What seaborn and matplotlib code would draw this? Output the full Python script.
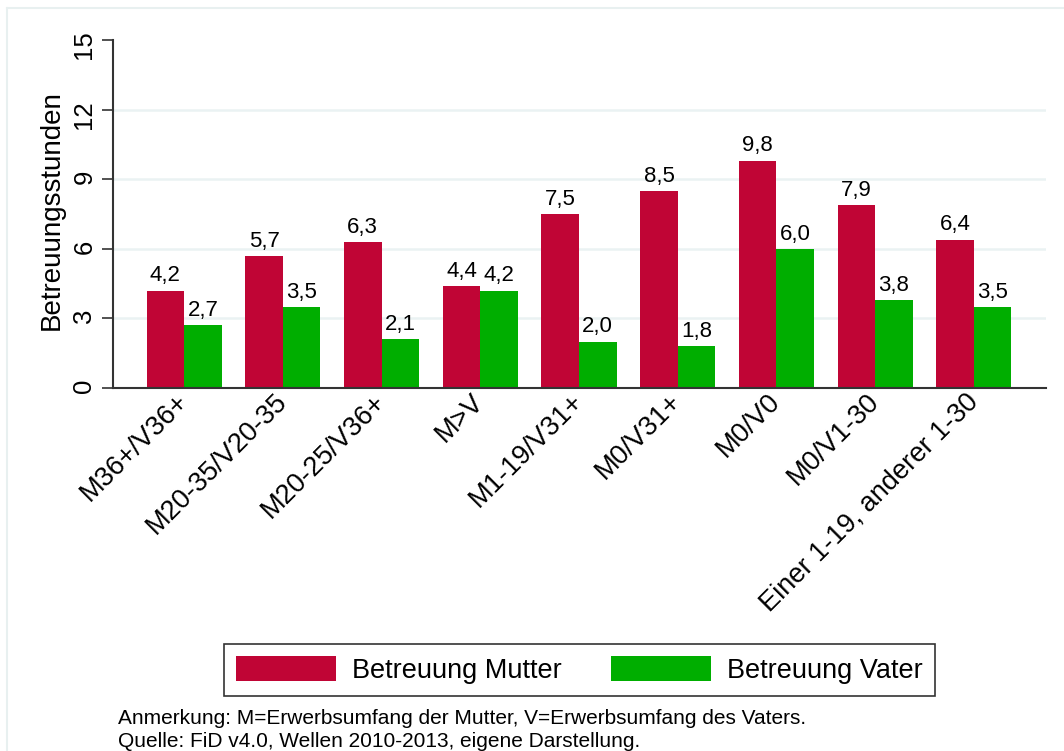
import matplotlib
matplotlib.use("Agg")
import matplotlib.pyplot as plt
from matplotlib.lines import Line2D
import pandas as pd
import seaborn as sns

# Werte aus der Abbildung
categories = ["M36+/V36+", "M20-35/V20-35", "M20-25/V36+", "M>V", "M1-19/V31+",
              "M0/V31+", "M0/V0", "M0/V1-30", "Einer 1-19, anderer 1-30"]
mutter = [4.2, 5.7, 6.3, 4.4, 7.5, 8.5, 9.8, 7.9, 6.4]
vater = [2.7, 3.5, 2.1, 4.2, 2.0, 1.8, 6.0, 3.8, 3.5]
series = ["Betreuung Mutter", "Betreuung Vater"]
colors = ["#C00535", "#00AE00"]
yticks = [0, 3, 6, 9, 12, 15]

note = ("Anmerkung: M=Erwerbsumfang der Mutter, V=Erwerbsumfang des Vaters.\n"
        "Quelle: FiD v4.0, Wellen 2010-2013, eigene Darstellung.")

df = pd.DataFrame({
    "Gruppe": categories * 2,
    "Serie": [series[0]] * len(categories) + [series[1]] * len(categories),
    "Stunden": mutter + vater,
})

sns.set_theme(style="white")
plt.rcParams["font.family"] = ["Liberation Sans", "DejaVu Sans"]
plt.rcParams["text.color"] = "black"
plt.rcParams["axes.labelcolor"] = "black"
plt.rcParams["xtick.color"] = "black"
plt.rcParams["ytick.color"] = "black"

fig = plt.figure(figsize=(10.64, 7.51), dpi=100)
ax = fig.add_axes([113 / 1064, 1 - 388 / 751, (1046 - 113) / 1064, 348 / 751])

sns.barplot(data=df, x="Gruppe", y="Stunden", hue="Serie", order=categories,
            hue_order=series, palette=colors, width=0.76, gap=0,
            saturation=1, linewidth=0, ax=ax)

for cont in ax.containers:
    labels = [f"{b.get_height():.1f}".replace(".", ",") for b in cont]
    ax.bar_label(cont, labels=labels, padding=3, fontsize=16, color="black")

ax.set_ylim(0, 15)
ax.set_xlim(-0.72, len(categories) - 1 + 0.73)
ax.set_yticks(yticks)
ax.set_yticklabels([str(t) for t in yticks])
ax.tick_params(axis="y", labelrotation=90, labelsize=18.5, length=8, width=1.2,
               color="#333333", pad=4, left=True)
ax.tick_params(axis="x", length=0, pad=7, labelsize=19.5)
plt.setp(ax.get_xticklabels(), rotation=45, ha="right", va="center",
         rotation_mode="anchor")

ax.set_xlabel("")
ax.set_ylabel("Betreuungsstunden", fontsize=20)
ax.yaxis.set_label_coords(-0.052, 0.51)

ax.grid(axis="y", color="#eaf2f3", linewidth=1.8)
ax.set_axisbelow(True)
gl = ax.yaxis.get_gridlines()
gl[0].set_visible(False)
gl[-1].set_visible(False)

for side in ["top", "right"]:
    ax.spines[side].set_visible(False)
for side in ["left", "bottom"]:
    ax.spines[side].set_color("#333333")
    ax.spines[side].set_linewidth(1.5)

ax.get_legend().remove()
handles, _ = ax.get_legend_handles_labels()
leg = fig.legend(handles, series, loc="center", bbox_to_anchor=(579.5 / 1064, 1 - 670 / 751),
                 ncol=2, fontsize=19.5, frameon=True, fancybox=False, edgecolor="black",
                 handlelength=3.7, handleheight=1.0, handletextpad=0.6,
                 columnspacing=1.8, borderpad=0.45)
leg.get_frame().set_linewidth(1.2)

fig.text(118 / 1064, 1 - 709 / 751, note, ha="left", va="top", fontsize=15,
         linespacing=1.25)

# heller Rahmen oben und links
fig.add_artist(Line2D([7 / 1064, 1], [1 - 8 / 751, 1 - 8 / 751], color="#e8f0f0", lw=1.5))
fig.add_artist(Line2D([7 / 1064, 7 / 1064], [0, 1 - 8 / 751], color="#e8f0f0", lw=1.5))

fig.savefig("out.png", dpi=100)
